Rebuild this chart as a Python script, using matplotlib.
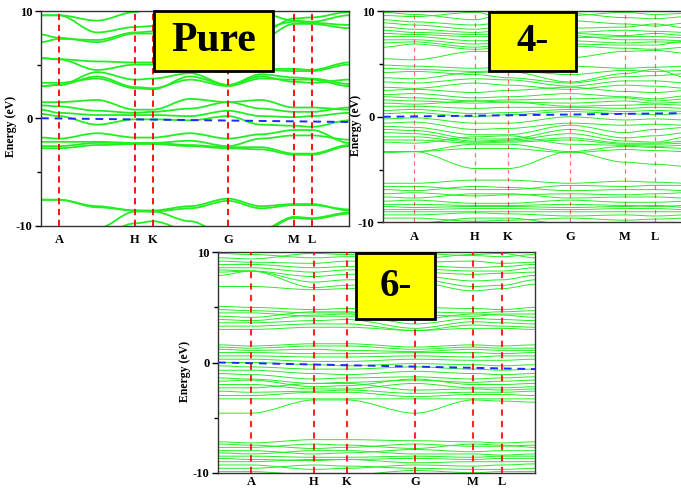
import matplotlib
matplotlib.use("Agg")
import matplotlib.pyplot as plt
from matplotlib.path import Path
from matplotlib.patches import PathPatch, Rectangle

# ---------------- data ----------------
sym_labels = ["A", "H", "K", "G", "M", "L"]

# Pure: k nodes = start, A, mid(A-H), H, K, mid(K-G), G, mid(G-M), M, L, end
pure_k = [0, 18, 56, 94, 112, 149, 187, 220, 253, 271, 308]
pure_bands = [
    [9.6, 9.6, 9.1, 9.9, 10.3, 10.5, 10.5, 9.8, 9.1, 9.0, 9.6],
    [9.6, 9.6, 8.0, 8.5, 8.6, 9.2, 9.8, 8.4, 9.0, 8.9, 8.7],
    [7.8, 7.5, 7.1, 7.9, 7.9, 8.2, 8.6, 7.4, 8.8, 8.8, 8.4],
    [7.1, 7.4, 7.3, 8.0, 8.1, 8.6, 9.2, 8.0, 9.3, 9.4, 9.9],
    [5.6, 5.5, 5.3, 5.2, 5.2, 4.8, 4.5, 4.6, 4.6, 4.5, 5.2],
    [5.6, 5.5, 4.5, 5.0, 5.0, 4.6, 4.3, 4.5, 4.4, 4.4, 5.0],
    [3.0, 3.1, 4.3, 3.6, 3.7, 4.2, 3.1, 4.1, 3.8, 3.7, 3.2],
    [3.0, 3.1, 3.9, 2.9, 2.8, 3.6, 3.0, 3.7, 3.6, 3.6, 3.0],
    [3.3, 3.3, 3.7, 2.8, 2.7, 3.9, 3.1, 3.9, 3.4, 3.3, 3.6],
    [1.5, 1.5, 1.7, 0.8, 0.8, 1.8, 1.5, 1.7, 1.0, 1.0, 0.8],
    [1.2, 1.1, 0.7, 0.5, 0.6, 0.9, 1.5, 0.9, 0.6, 0.6, 1.0],
    [0.8, 0.5, 0.3, 0.3, 0.3, 0.2, 0.7, 0.2, 0.1, 0.2, 0.5],
    [0.4, 0.2, -0.6, -0.1, -0.1, -0.2, 0.2, -0.6, -0.7, -0.8, -0.2],
    [-1.8, -1.9, -1.4, -1.8, -1.8, -1.4, -1.9, -1.5, -1.1, -1.1, -2.3],
    [-2.2, -2.2, -2.2, -2.3, -2.3, -2.1, -2.6, -1.9, -1.6, -1.6, -2.0],
    [-2.6, -2.6, -2.3, -2.3, -2.3, -2.5, -2.7, -2.7, -3.3, -3.3, -2.5],
    [-2.8, -2.8, -2.5, -2.4, -2.4, -2.6, -2.8, -2.9, -3.4, -3.4, -2.6],
    [-7.6, -7.6, -8.2, -8.6, -8.6, -8.2, -7.5, -8.2, -8.0, -8.0, -8.6],
    [-7.6, -7.6, -8.3, -8.6, -8.7, -8.4, -7.7, -8.4, -8.1, -8.1, -8.5],
    [-11.0, -11.0, -10.3, -8.7, -8.7, -9.6, -11.0, -10.4, -9.2, -9.3, -8.8],
    [-11.0, -11.0, -11.0, -9.8, -9.6, -10.5, -11.0, -10.6, -9.3, -9.4, -8.9],
]
pure_fermi = [0.0, -0.35]

# 4-: k nodes = start, A, H, K, G, M, L, end
m4_k = [0, 31, 92, 125, 187, 242, 272, 305]
m4_bands = [
    [9.9, 9.7, 9.2, 9.9, 9.6, 9.9, 9.7, 9.8],
    [9.6, 9.5, 9.9, 9.3, 9.8, 9.4, 9.3, 9.5],
    [9.2, 9.0, 8.7, 9.0, 9.1, 8.8, 8.6, 8.9],
    [8.9, 8.7, 8.3, 8.6, 8.4, 8.5, 8.8, 8.4],
    [8.5, 8.3, 8.0, 8.2, 8.0, 8.2, 8.1, 8.0],
    [8.2, 8.0, 7.8, 7.9, 7.9, 7.7, 7.9, 7.7],
    [7.9, 7.8, 7.6, 7.6, 7.5, 7.6, 7.6, 7.5],
    [7.6, 7.6, 7.2, 7.3, 7.7, 7.3, 7.3, 7.2],
    [7.3, 7.3, 6.9, 7.0, 7.2, 7.0, 7.1, 7.0],
    [7.0, 7.1, 6.6, 6.9, 6.9, 6.8, 6.8, 7.2],
    [6.6, 6.9, 6.4, 6.6, 6.7, 6.5, 6.4, 6.6],
    [5.5, 5.4, 6.2, 6.2, 5.6, 6.2, 6.3, 6.0],
    [4.9, 4.8, 4.6, 4.7, 4.8, 4.6, 4.7, 4.8],
    [4.6, 4.5, 4.3, 4.4, 4.0, 4.4, 4.3, 4.4],
    [4.2, 4.3, 4.0, 3.7, 3.2, 3.8, 3.9, 4.1],
    [3.7, 3.6, 4.2, 4.3, 3.3, 4.1, 4.5, 3.7],
    [3.3, 3.2, 3.6, 3.5, 2.9, 3.4, 3.4, 3.2],
    [2.8, 2.7, 3.2, 3.0, 2.6, 3.0, 2.9, 2.7],
    [2.5, 2.6, 2.3, 2.5, 2.8, 2.4, 2.3, 2.5],
    [2.1, 2.2, 1.8, 1.9, 2.2, 1.9, 1.7, 2.0],
    [1.9, 1.8, 1.5, 1.6, 1.7, 1.8, 1.5, 1.7],
    [1.6, 1.5, 1.3, 1.4, 1.3, 1.5, 1.3, 1.4],
    [1.3, 1.2, 1.5, 1.4, 1.0, 1.1, 1.2, 1.1],
    [1.0, 1.0, 0.8, 0.9, 0.9, 0.8, 0.9, 0.8],
    [0.6, 0.7, 0.3, 0.4, 0.7, 0.5, 0.6, 0.5],
    [0.3, 0.4, 0.0, 0.2, 0.5, 0.3, 0.2, 0.3],
    [-0.2, -0.1, -0.6, -0.6, 0.0, -0.3, -0.2, -0.3],
    [-0.6, -0.5, -1.2, -1.1, -0.6, -0.8, -0.7, -0.8],
    [-0.9, -1.0, -1.7, -1.7, -0.8, -1.5, -1.2, -1.0],
    [-1.2, -1.3, -2.1, -2.1, -1.2, -2.0, -1.8, -1.5],
    [-1.5, -1.6, -2.3, -2.2, -1.6, -2.3, -2.4, -1.9],
    [-1.9, -1.9, -2.4, -2.3, -2.0, -2.5, -2.5, -2.3],
    [-2.2, -2.2, -2.5, -2.4, -2.2, -2.6, -2.6, -2.5],
    [-2.4, -2.5, -1.9, -1.8, -2.6, -2.7, -2.8, -2.7],
    [-3.3, -3.3, -2.6, -2.6, -3.3, -2.8, -2.9, -3.0],
    [-3.4, -3.3, -3.0, -3.0, -3.4, -3.1, -3.2, -3.3],
    [-3.3, -3.3, -4.9, -4.9, -3.3, -4.3, -4.5, -4.7],
    [-6.3, -6.3, -6.0, -6.0, -6.3, -6.1, -6.2, -6.3],
    [-6.6, -6.6, -6.9, -6.9, -6.5, -6.6, -6.5, -6.5],
    [-6.9, -7.0, -6.6, -6.7, -7.0, -6.9, -6.9, -7.0],
    [-7.3, -7.2, -7.5, -7.4, -7.3, -7.4, -7.3, -7.2],
    [-7.6, -7.7, -7.3, -7.3, -7.7, -7.6, -7.6, -7.7],
    [-8.0, -7.9, -8.2, -8.2, -7.9, -8.1, -8.1, -8.0],
    [-8.3, -8.3, -8.4, -8.4, -8.3, -8.4, -8.5, -8.4],
    [-8.5, -8.6, -8.5, -8.5, -8.6, -8.5, -8.4, -8.6],
    [-8.8, -8.8, -8.7, -8.7, -8.8, -8.7, -8.7, -8.8],
    [-9.0, -9.0, -9.0, -9.0, -9.0, -9.0, -9.0, -9.0],
    [-9.3, -9.3, -9.1, -9.2, -9.4, -9.3, -9.4, -9.3],
    [-9.6, -9.6, -9.9, -9.8, -9.6, -9.8, -9.7, -9.6],
    [-10.2, -10.1, -9.6, -9.6, -10.2, -10.0, -10.0, -10.2],
]
m4_fermi = [0.0, 0.35]

# 6-: k nodes = start, A, H, K, G, M, L, end
m6_k = [0, 33, 96, 129, 197, 255, 284, 317]
m6_bands = [
    [9.9, 9.8, 9.5, 9.6, 9.9, 9.7, 9.6, 9.8],
    [9.5, 9.4, 9.9, 9.8, 9.4, 9.8, 9.9, 9.5],
    [9.2, 9.1, 9.0, 9.2, 9.1, 9.2, 9.0, 9.1],
    [8.9, 8.9, 8.6, 8.7, 8.8, 8.6, 8.7, 8.9],
    [8.6, 8.6, 8.2, 8.4, 8.5, 8.3, 8.3, 8.6],
    [8.4, 8.3, 7.8, 8.0, 8.2, 8.0, 8.1, 8.2],
    [8.2, 8.3, 7.3, 7.5, 7.9, 7.4, 7.5, 7.9],
    [7.9, 8.3, 6.8, 7.0, 7.6, 6.9, 7.0, 7.5],
    [6.9, 6.9, 6.6, 6.7, 7.3, 6.5, 6.7, 7.1],
    [5.1, 5.0, 4.8, 4.9, 5.0, 4.9, 4.8, 5.0],
    [4.8, 4.7, 4.5, 4.5, 4.6, 4.5, 4.6, 4.7],
    [4.5, 4.5, 4.2, 4.2, 4.3, 4.2, 4.4, 4.4],
    [4.2, 4.1, 4.6, 4.6, 3.9, 4.4, 4.3, 4.1],
    [3.9, 3.8, 4.3, 4.4, 3.5, 4.0, 3.9, 3.8],
    [3.6, 3.6, 3.8, 3.9, 3.1, 3.7, 3.6, 3.5],
    [3.3, 3.3, 3.5, 3.5, 2.9, 3.4, 3.3, 3.2],
    [3.0, 3.0, 3.2, 3.2, 2.9, 3.1, 3.1, 3.0],
    [1.6, 1.5, 1.7, 1.7, 1.4, 1.6, 1.5, 1.6],
    [1.4, 1.3, 1.5, 1.5, 1.2, 1.4, 1.3, 1.3],
    [1.2, 1.1, 1.2, 1.1, 1.0, 1.2, 1.1, 1.1],
    [0.9, 0.9, 0.8, 0.8, 0.9, 0.9, 0.8, 0.9],
    [0.6, 0.6, 0.5, 0.5, 0.6, 0.5, 0.6, 0.6],
    [0.3, 0.3, 0.1, 0.1, 0.3, 0.2, 0.2, 0.3],
    [0.0, 0.0, -0.2, -0.3, -0.1, -0.2, -0.3, -0.2],
    [-0.3, -0.4, -0.6, -0.6, -0.4, -0.6, -0.7, -0.6],
    [-0.7, -0.7, -1.0, -1.1, -0.8, -1.0, -1.1, -1.0],
    [-1.0, -1.1, -1.5, -1.4, -1.3, -1.5, -1.4, -1.3],
    [-1.4, -1.5, -1.9, -1.8, -1.6, -1.8, -1.7, -1.6],
    [-1.7, -1.6, -2.2, -2.1, -1.5, -2.0, -2.0, -1.9],
    [-2.0, -2.0, -2.4, -2.4, -1.9, -2.3, -2.3, -2.2],
    [-2.3, -2.3, -1.9, -1.9, -2.5, -2.4, -2.5, -2.4],
    [-2.6, -2.7, -2.6, -2.5, -2.8, -2.7, -2.7, -2.6],
    [-3.0, -3.0, -2.7, -2.7, -3.1, -2.9, -2.9, -3.0],
    [-3.3, -3.3, -3.3, -3.3, -3.3, -3.3, -3.3, -3.3],
    [-4.6, -4.6, -3.4, -3.4, -4.6, -3.4, -3.5, -3.6],
    [-7.2, -7.3, -7.0, -7.0, -7.1, -7.2, -7.3, -7.2],
    [-7.4, -7.5, -7.8, -7.7, -7.4, -7.6, -7.6, -7.5],
    [-7.7, -7.7, -7.4, -7.5, -7.8, -7.4, -7.5, -7.7],
    [-8.0, -8.0, -8.3, -8.2, -7.9, -8.1, -8.0, -8.0],
    [-8.2, -8.3, -8.0, -8.0, -8.3, -8.3, -8.4, -8.3],
    [-8.5, -8.5, -8.6, -8.6, -8.5, -8.6, -8.5, -8.5],
    [-8.7, -8.8, -8.9, -8.8, -8.7, -8.8, -8.7, -8.7],
    [-9.0, -9.0, -8.8, -8.8, -9.1, -9.0, -9.0, -9.0],
    [-9.3, -9.3, -9.7, -9.6, -9.3, -9.4, -9.3, -9.2],
    [-9.6, -9.6, -9.3, -9.4, -9.6, -9.7, -9.7, -9.6],
    [-9.9, -9.9, -10.2, -10.2, -9.8, -10.0, -9.9, -9.9],
]
m6_fermi = [0.0, -0.6]

panel_titles = ["Pure", "4-", "6-"]

# ---------------- drawing ----------------
W, H = 681, 488
fig = plt.figure(figsize=(W / 100, H / 100), dpi=100)
SERIF = ["Liberation Serif", "DejaVu Serif"]
GREEN = "#22ee22"


def band_path(xs, ys):
    verts = [(xs[0], ys[0])]
    codes = [Path.MOVETO]
    for i in range(len(xs) - 1):
        d = (xs[i + 1] - xs[i]) / 3.0
        verts += [(xs[i] + d, ys[i]), (xs[i + 1] - d, ys[i + 1]), (xs[i + 1], ys[i + 1])]
        codes += [Path.CURVE4, Path.CURVE4, Path.CURVE4]
    return Path(verts, codes)


def make_panel(rect_px, kx, bands, sym_k, fermi, lw, red_lw, red_alpha, red_dash,
               label_xy, xpad):
    l, t, r, b = rect_px
    ax = fig.add_axes([l / W, 1 - b / H, (r - l) / W, (b - t) / H])
    for band in bands:
        ax.add_patch(PathPatch(band_path(kx, band), fill=False, edgecolor=GREEN,
                               lw=lw, zorder=2))
    for xk in sym_k:
        ax.axvline(xk, color="red", lw=red_lw, alpha=red_alpha,
                   linestyle=(0, red_dash), zorder=3)
    ax.plot([kx[0], kx[-1]], fermi, color="#1a2cff", lw=1.4,
            linestyle=(0, (4, 3)), zorder=4)
    ax.set_xlim(kx[0], kx[-1])
    ax.set_ylim(-10, 10)
    ax.set_yticks([-10, 0, 10])
    ax.set_yticks([-5, 5], minor=True)
    ax.set_yticklabels(["-10", "0", "10"], fontfamily=SERIF, fontweight="bold", fontsize=9)
    ax.set_xticks(sym_k)
    ax.set_xticklabels(sym_labels, fontfamily=SERIF, fontweight="bold", fontsize=9)
    ax.tick_params(axis="x", length=0, pad=xpad)
    ax.tick_params(axis="y", which="major", direction="out", length=4, width=1, pad=2)
    ax.tick_params(axis="y", which="minor", direction="out", length=3, width=1)
    ax.set_ylabel("Energy (eV)", fontfamily=SERIF, fontweight="bold", fontsize=8.5)
    ax.yaxis.set_label_coords(*label_xy)
    for s in ax.spines.values():
        s.set_linewidth(1.0)
        s.set_color("#333333")
    return ax


pure_sym = [pure_k[1], pure_k[3], pure_k[4], pure_k[6], pure_k[8], pure_k[9]]
ax1 = make_panel((41, 11, 349, 225.5), pure_k, pure_bands, pure_sym, pure_fermi,
                 1.3, 1.3, 1.0, (3.5, 2.5), (-0.078, 0.46), 6)
ax2 = make_panel((383, 11.3, 688, 222.3), m4_k, m4_bands, m4_k[1:7], m4_fermi,
                 0.7, 0.9, 0.55, (3.5, 3), (-0.069, 0.46), 6)
ax3 = make_panel((218, 252.3, 535, 472.7), m6_k, m6_bands, m6_k[1:7], m6_fermi,
                 0.7, 1.5, 0.85, (3, 2.5), (-0.085, 0.46), 2.5)


def label_box(x0, y0, x1, y1, text, fs):
    rect = Rectangle((x0 / W, 1 - y1 / H), (x1 - x0) / W, (y1 - y0) / H,
                     transform=fig.transFigure, facecolor="#ffff00",
                     edgecolor="black", lw=2, zorder=10)
    fig.add_artist(rect)
    fig.text((x0 + x1) / 2 / W, 1 - (y0 + y1) / 2 / H, text, ha="center", va="center",
             fontfamily=SERIF, fontweight="bold", fontsize=fs, zorder=11)


label_box(154, 11, 273, 71, panel_titles[0], 30)
label_box(489, 12, 576, 71, panel_titles[1], 28)
label_box(356, 253, 435, 319, panel_titles[2], 28)

fig.savefig("out.png", dpi=100)
